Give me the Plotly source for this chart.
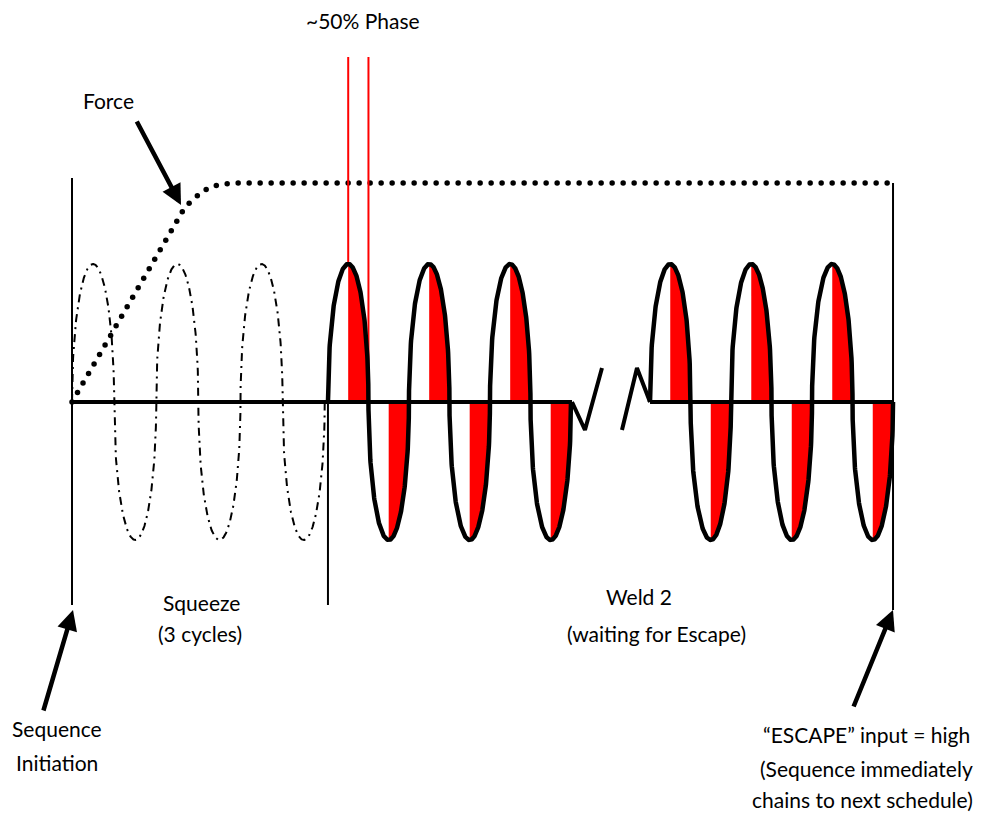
import numpy as np
import plotly.graph_objects as go

# ---------------- data (time in cycles, amplitude normalised) ----------------
segment_labels = ["Squeeze", "Weld 2 (before break)", "Weld 2 (after break)"]
segment_start = [0.0, 3.16, 7.136]
segment_cycles = [3, 3, 3]
segment_period = [1.04, 1.0, 1.0]
amplitude = 1.0

force_t = [0.0, 1.395, 1.50, 1.617, 1.74, 1.889, 2.074, 10.136]
force_y = [0.0, 1.413, 1.47, 1.529, 1.565, 1.580, 1.587, 1.587]

baseline_a_t = [0.0, 6.173]
baseline_b_t = [7.136, 10.136]
break_left_t = [6.173, 6.333, 6.543]
break_left_y = [0.0, -0.203, 0.246]
break_right_t = [6.790, 6.975, 7.136]
break_right_y = [-0.203, 0.246, 0.0]

marker_t = [0.0, 3.16, 10.136]        # sequence initiation, weld start, escape
marker_top = [1.623, 0.0, 1.587]
marker_bottom = [-1.471, -1.471, -1.507]

phase_t = [3.41, 3.66]
phase_top = [2.5, 2.5]
phase_bottom = [1.0, 0.0]

# ---------------- helpers ----------------
PX0, PXU, PY0, PYU = 72.0, 81.0, 402.0, 138.0
def tx(px):
    return (px - PX0) / PXU
def ty(py):
    return (PY0 - py) / PYU

def wave(start, period, c0, c1, n=200):
    """Rounded (half-ellipse) alternating wave, as drawn in the diagram."""
    ph = np.linspace(c0, c1, n)
    k = np.floor(ph / 0.5 - 1e-9).clip(min=0)
    u = (ph - k * 0.5 - 0.25) / 0.25
    y = np.where(k % 2 == 0, 1.0, -1.0) * np.sqrt(np.clip(1 - u ** 2, 0, 1))
    return start + period * ph, amplitude * y

fig = go.Figure()

# red fills (weld segments): from each crest to the next zero crossing
for s, c, p in zip(segment_start[1:], segment_cycles[1:], segment_period[1:]):
    for k in range(2 * c):
        a = k * 0.5 + 0.25
        b = k * 0.5 + 0.5
        xs, ys = wave(s, p, a, b, 80)
        px = list(xs) + [xs[0]]
        py = list(ys) + [0.0]
        fig.add_trace(go.Scatter(x=px, y=py, fill="toself", fillcolor="#FF0000",
                                 line=dict(width=0), mode="lines", hoverinfo="skip"))

# squeeze wave (dash-dot)
xs, ys = wave(segment_start[0], segment_period[0], 0, segment_cycles[0], 1200)
fig.add_trace(go.Scatter(x=xs, y=ys, mode="lines",
                         line=dict(color="black", width=2, dash="8px,5px,2px,5px")))

# force (round dots every ~11 px along the path)
fpx = np.array([PX0 + PXU * t for t in force_t])
fpy = np.array([PY0 - PYU * v for v in force_y])
seg = np.hypot(np.diff(fpx), np.diff(fpy))
cum = np.concatenate([[0], np.cumsum(seg)])
d = np.arange(0, cum[-1] + 0.1, 11.0)
dx = np.interp(d, cum, fpx)
dy = np.interp(d, cum, fpy)
fig.add_trace(go.Scatter(x=tx(dx), y=ty(dy), mode="markers",
                         marker=dict(color="black", size=5.5, line=dict(width=0))))

# vertical boundaries
for t, a, b in zip(marker_t, marker_top, marker_bottom):
    fig.add_trace(go.Scatter(x=[t, t], y=[a, b], mode="lines",
                             line=dict(color="black", width=2)))

# red phase lines
for t, a, b in zip(phase_t, phase_top, phase_bottom):
    fig.add_trace(go.Scatter(x=[t, t], y=[a, b], mode="lines",
                             line=dict(color="#FF0000", width=2)))

# baseline and break
fig.add_trace(go.Scatter(x=baseline_a_t, y=[0, 0], mode="lines", line=dict(color="black", width=4)))
fig.add_trace(go.Scatter(x=baseline_b_t, y=[0, 0], mode="lines", line=dict(color="black", width=4)))
fig.add_trace(go.Scatter(x=break_left_t, y=break_left_y, mode="lines", line=dict(color="black", width=4)))
fig.add_trace(go.Scatter(x=break_right_t, y=break_right_y, mode="lines", line=dict(color="black", width=4)))

# weld waves (solid)
for s, c, p in zip(segment_start[1:], segment_cycles[1:], segment_period[1:]):
    xs, ys = wave(s, p, 0, c, 1200)
    fig.add_trace(go.Scatter(x=xs, y=ys, mode="lines", line=dict(color="black", width=4.5)))

FONT = dict(family="Lato, 'Open Sans', sans-serif", size=21, color="black")
texts = [
    ("~50% Phase", 363, 20),
    ("Force", 108, 100),
    ("Squeeze", 201, 602),
    ("(3 cycles)", 200, 633),
    ("Weld 2", 639, 596),
    ("(waiting for Escape)", 656, 633),
    ("Sequence", 57, 728),
    ("Initiation", 57, 762),
    ("\u201cESCAPE\u201d input = high", 866, 734),
    ("(Sequence immediately", 866, 768),
    ("chains to next schedule)", 862, 799),
]
anns = []
for t, x, y in texts:
    anns.append(dict(text=t, x=tx(x), y=ty(y), xref="x", yref="y", showarrow=False,
                     font=FONT, xanchor="center", yanchor="middle"))

arrows = [((181, 205), (136, 120)), ((73, 610), (43, 712)), ((893, 610), (853, 708))]
for (hx, hy), (sx, sy) in arrows:
    anns.append(dict(text="", x=tx(hx), y=ty(hy), ax=tx(sx), ay=ty(sy), xref="x", yref="y",
                     axref="x", ayref="y", showarrow=True, arrowhead=2, arrowsize=0.9,
                     arrowwidth=4.5, arrowcolor="black"))

fig.update_layout(
    width=983, height=814, margin=dict(l=0, r=0, t=0, b=0),
    paper_bgcolor="white", plot_bgcolor="white", showlegend=False,
    xaxis=dict(range=[tx(0), tx(983)], visible=False, fixedrange=True),
    yaxis=dict(range=[ty(814), ty(0)], visible=False, fixedrange=True),
    annotations=anns,
)

fig.write_html("out.html", config={"displayModeBar": False},
               post_script="document.body.style.margin='0px';document.body.style.overflow='hidden';")
